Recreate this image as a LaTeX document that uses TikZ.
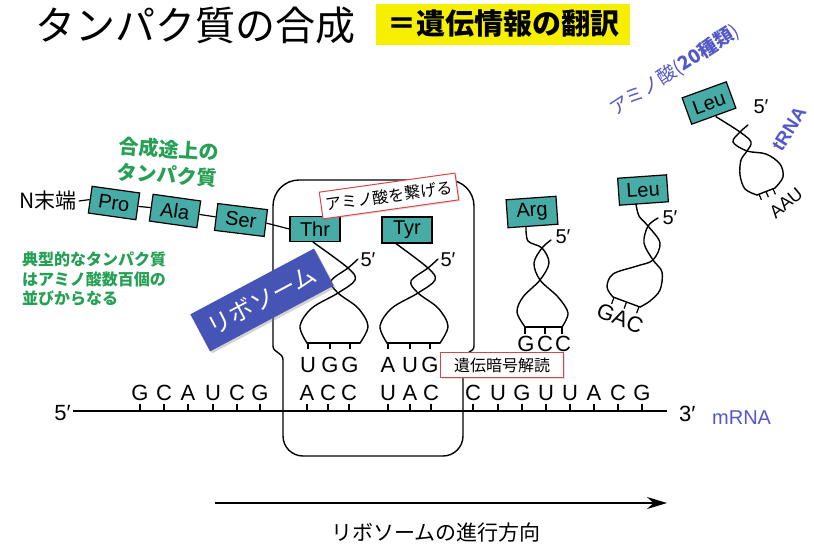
\documentclass[tikz,border=0pt]{standalone}
\usepackage{fontspec}
\setmainfont{Liberation Sans}
\newfontfamily\jp{Noto Sans CJK JP}
\usetikzlibrary{arrows.meta,shadows}

\definecolor{aafill}{RGB}{72,172,166}
\definecolor{grn}{RGB}{38,160,84}
\definecolor{ribblue}{RGB}{70,84,182}
\definecolor{lblue}{RGB}{84,88,200}
\definecolor{ylw}{RGB}{246,240,0}
\definecolor{redb}{RGB}{214,72,72}

\tikzset{
  aa/.style={draw=black, line width=1.2pt, fill=aafill, minimum width=48pt,
    minimum height=27pt, inner sep=0pt, font=\fontsize{20}{20}\selectfont},
  strand/.style={line width=1.4pt, line join=round, line cap=round},
  tick/.style={line width=1.2pt},
  base/.style={font=\fontsize{22}{22}\selectfont, inner sep=0pt},
  prime/.style={font=\fontsize{20}{20}\selectfont, inner sep=0pt},
  tag/.style={draw=redb, line width=1pt, fill=white, inner sep=3pt,
    font=\jp\fontsize{16}{16}\selectfont,
    drop shadow={opacity=0.25, shadow xshift=1.5pt, shadow yshift=-1.5pt}},
  note/.style={text=grn, font=\jp\bfseries\fontsize{16}{19.5}\selectfont,
    align=left, inner sep=0pt},
  rib/.style={line width=1.4pt},
}

\begin{document}
\begin{tikzpicture}[x=1pt,y=-1pt]
\useasboundingbox (0,0) rectangle (814,550);
\fill[white] (0,0) rectangle (814,550);

% headings
\node[font=\jp\fontsize{40}{40}\selectfont, inner sep=0pt] (title) at (195,25) {タンパク質の合成};
\node[fill=ylw, minimum width=254pt, minimum height=41pt, inner sep=0pt,
  font=\jp\bfseries\fontsize{29}{29}\selectfont] (subtitle) at (503,24) {＝遺伝情報の翻訳};

% ribosome outline: large upper body over a narrower lower body
\draw[rib, rounded corners=26pt] (273,346) -- (273,180) -- (474,180) -- (474,346);
\draw[rib, rounded corners=20pt] (283,360) -- (283,456) -- (463,456) -- (463,360);
\draw[rib] (273,346) .. controls (273,353) and (283,352) .. (283,360);
\draw[rib] (474,346) .. controls (474,353) and (463,352) .. (463,360);

% mRNA strand with its bases
\coordinate (m5) at (73,411);
\coordinate (m3) at (667,411);
\draw[line width=1.3pt] (m5) -- (m3);
\node[base, anchor=east] (p5) at (71,413) {5′};
\node[base, anchor=west] (p3) at (679,414) {3′};
\node[font=\fontsize{20}{20}\selectfont, text=lblue, anchor=west, inner sep=0pt] (mrna) at (712,418) {mRNA};
\foreach \x/\b [count=\i] in {140/G,164/C,188/A,213/U,237/C,260/G,307/A,328/C,349/C,
    388/U,410/A,431/C,473/C,498/U,522/G,546/U,570/U,594/A,618/C,642/G} {
  \node[base] (mb\i) at (\x,393) {\b};
  \draw[tick] (\x,404) -- (\x,411);
}

% growing peptide chain
\node[font=\jp\fontsize{21}{21}\selectfont, inner sep=0pt] (nterm) at (48,201) {N末端};
\node[aa, rotate=-8] (pro) at (114,203) {Pro};
\node[aa, rotate=-8] (ala) at (175,211) {Ala};
\node[aa, rotate=-7, minimum width=50pt] (ser) at (241,220) {Ser};
\node[aa, minimum width=50pt, minimum height=25pt] (thr) at (315,229) {Thr};
\node[aa, minimum width=50pt, minimum height=26pt] (tyr) at (407,230) {Tyr};
\node[aa, rotate=4, minimum width=50pt, minimum height=28pt] (arg) at (532,212) {Arg};
\node[aa, rotate=4, minimum width=49pt, minimum height=27pt] (leumid) at (643,190) {Leu};
\node[aa, rotate=20, minimum width=47pt, minimum height=28pt] (leutop) at (709,103) {Leu};
\draw[line width=1.2pt] ([xshift=2pt]nterm.east) -- (pro.west);
\draw[line width=1.2pt] (pro.east) -- (ala.west);
\draw[line width=1.2pt] (ala.east) -- (ser.west);
\draw[line width=1.2pt] (ser.east) -- (thr.west);

% tRNA carrying Thr
\coordinate (thrs) at ([xshift=-2pt]thr.south);
\draw[strand] plot[smooth, tension=0.55] coordinates {(thrs) (348,268) (355,280) (338,293) (312,308) (300,326) (307,343)};
\draw[strand] plot[smooth, tension=0.55] coordinates {(358,259) (348,268) (331,281) (338,293) (358,308) (368,326) (360,343)};
\draw[strand] (307,343) -- (360,343);
\foreach \x in {308,330,350} \draw[tick] (\x,343) -- (\x,349);
\node[prime] (thr5) at (368,260) {5′};

% tRNA carrying Tyr
\coordinate (tyrs) at ([xshift=-11pt]tyr.south);
\draw[strand] plot[smooth, tension=0.55] coordinates {(tyrs) (428,268) (435,280) (418,293) (392,308) (380,326) (387,343)};
\draw[strand] plot[smooth, tension=0.55] coordinates {(438,259) (428,268) (411,281) (418,293) (438,308) (448,326) (440,343)};
\draw[strand] (387,343) -- (440,343);
\foreach \x in {388,410,430} \draw[tick] (\x,343) -- (\x,349);
\node[prime] (tyr5) at (448,260) {5′};

% anticodons paired with the mRNA
\foreach \x/\b [count=\i] in {308/U,330/G,350/G,388/A,410/U,430/G} {
  \node[base] (ac\i) at (\x,365) {\b};
}

% incoming tRNA carrying Arg
\coordinate (args) at ([xshift=-7pt]arg.south);
\draw[strand] plot[smooth, tension=0.55] coordinates {(args) (528,241) (542,248) (549,263) (540,280) (523,297) (517,312) (525,327)};
\draw[strand] plot[smooth, tension=0.55] coordinates {(551,240) (542,248) (534,263) (540,280) (558,297) (568,313) (562,327)};
\draw[strand] (525,327) -- (562,327);
\foreach \x in {525,545,562} \draw[tick] (\x,327) -- (\x,334);
\node[prime] (arg5) at (563,237) {5′};
\foreach \x/\b [count=\i] in {526/G,545/C,563/C} {
  \node[base] (gcc\i) at (\x,344) {\b};
}

% free tRNA carrying Leu
\coordinate (leums) at ([xshift=-8pt]leumid.south);
\draw[strand] plot[smooth, tension=0.55] coordinates {(leums) (639,216) (648,226) (660,243) (653,260) (637,266) (613,274) (607,287) (613,297)};
\draw[strand] plot[smooth, tension=0.55] coordinates {(658,218) (648,226) (644,243) (653,260) (662,272) (660,290) (650,301) (640,307)};
\draw[strand] (613,297) -- (640,307);
\foreach \x/\y in {614/297.4,626.5/302,639/306.6} \draw[tick] (\x,\y) -- ++(-2.4,6.6);
\node[prime] (leumid5) at (670,218) {5′};
\node[base, rotate=-22] (gac) at (620,318) {GAC};

% tRNA with Leu among the twenty kinds
\coordinate (leuts) at ([xshift=2pt]leutop.south);
\draw[strand] plot[smooth, tension=0.55] coordinates {(leuts) (740,132) (751,142) (747,151) (741,160) (740,175) (745,189) (757,195)};
\draw[strand] plot[smooth, tension=0.55] coordinates {(748,125) (740,132) (733,142) (747,151) (766,154) (780,164) (783,177) (775,188)};
\draw[strand] (757,195) -- (775,188);
\foreach \x/\y in {759/194.2,766/191.5,773/188.8} \draw[tick] (\x,\y) -- ++(2.4,5.6);
\node[prime] (leutop5) at (761,107) {5′};
\node[font=\fontsize{18}{18}\selectfont, inner sep=0pt, rotate=40] (aau) at (786,203) {AAU};
\node[font=\bfseries\fontsize{19}{19}\selectfont, text=lblue, inner sep=0pt, rotate=58] (trna) at (789,129) {tRNA};
\node[font=\jp\fontsize{19}{19}\selectfont, text=lblue, inner sep=0pt, anchor=south west, rotate=33] (kinds) at (617,120) {アミノ酸(\textbf{20種類})};

% green notes
\node[note, font=\jp\bfseries\fontsize{20}{26}\selectfont, rotate=-4] (growing) at (168,162) {合成途上の\\タンパク質};
\node[note, anchor=north west] (typical) at (22,252) {典型的なタンパク質\\はアミノ酸数百個の\\並びからなる};

% callouts
\node[tag, rotate=8, minimum width=137pt, minimum height=27pt] (link) at (389,196) {アミノ酸を繋げる};
\node[tag, minimum width=123pt, minimum height=25pt] (decode) at (502,365) {遺伝暗号解読};
\node[fill=ribblue, text=white, rotate=28, minimum width=140pt, minimum height=42pt,
  inner sep=0pt, font=\jp\fontsize{24}{24}\selectfont,
  drop shadow={opacity=0.35, shadow xshift=2pt, shadow yshift=-2pt}] (riblabel) at (262,300) {リボソーム};

% direction of ribosome travel
\coordinate (dirS) at (215,503);
\coordinate (dirE) at (667,503);
\draw[line width=1.8pt, -{Stealth[length=20pt, width=12pt]}] (dirS) -- (dirE);
\node[font=\jp\fontsize{21}{21}\selectfont, inner sep=0pt] (dirlabel) at (436,533) {リボソームの進行方向};
\end{tikzpicture}
\end{document}
